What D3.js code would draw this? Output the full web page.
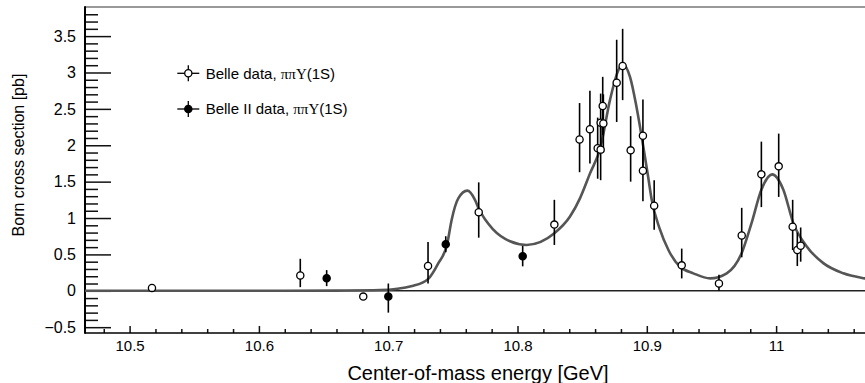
<!DOCTYPE html>
<html>
<head>
<meta charset="utf-8">
<script src="https://cdn.jsdelivr.net/npm/d3@7"></script>
<style>
  html, body { margin: 0; padding: 0; background: #fff; }
  svg { display: block; }
  text { font-family: "Liberation Sans", Arial, Helvetica, sans-serif; fill: #000; }
</style>
</head>
<body>
<svg id="chart" width="865" height="383"></svg>
<script>
// ---------- data ----------
// Belle data, open circles
const belleE   = [10.5173, 10.632, 10.6807, 10.7308, 10.770, 10.8285, 10.848, 10.856, 10.862, 10.8643, 10.8643, 10.8664, 10.8659, 10.8767, 10.8813, 10.8875, 10.897, 10.897, 10.9057, 10.927, 10.9558, 10.9734, 10.9886, 11.002, 11.0128, 11.0164, 11.019];
const belleXS  = [0.04, 0.21, -0.08, 0.34, 1.08, 0.91, 2.08, 2.22, 1.96, 1.94, 2.31, 2.30, 2.54, 2.86, 3.09, 1.93, 2.13, 1.65, 1.17, 0.35, 0.10, 0.76, 1.60, 1.71, 0.88, 0.56, 0.62];
const belleErrUp = [0.02, 0.23, 0.03, 0.33, 0.41, 0.34, 0.50, 0.53, 0.42, 0.42, 0.40, 0.40, 0.40, 0.59, 0.51, 0.47, 0.50, 0.45, 0.35, 0.23, 0.12, 0.38, 0.45, 0.45, 0.37, 0.24, 0.25];
const belleErrDn = [0.02, 0.16, 0.03, 0.24, 0.35, 0.28, 0.45, 0.47, 0.42, 0.42, 0.40, 0.40, 0.40, 0.54, 0.47, 0.43, 0.48, 0.42, 0.33, 0.18, 0.10, 0.30, 0.45, 0.42, 0.32, 0.22, 0.22];

// Belle II data, filled circles
const belle2E  = [10.6524, 10.7001, 10.7445, 10.804];
const belle2XS = [0.174, -0.08, 0.64, 0.476];
const belle2ErrUp = [0.11, 0.18, 0.11, 0.14];
const belle2ErrDn = [0.11, 0.22, 0.11, 0.14];

// fit curve
const curveE  = [10.4655, 10.55, 10.62, 10.66, 10.6937, 10.7194, 10.7308, 10.7388, 10.7457, 10.749, 10.7542, 10.7612, 10.7671, 10.770, 10.7813, 10.7942, 10.807, 10.8285, 10.8406, 10.8483, 10.856, 10.8643, 10.8715, 10.878, 10.8813, 10.887, 10.892, 10.8973, 10.901, 10.9038, 10.91, 10.917, 10.9257, 10.936, 10.949, 10.9618, 10.9734, 10.981, 10.9886, 10.997, 11.0056, 11.0133, 11.0237, 11.0365, 11.052, 11.0687, 11.09];
const curveXS = [0, 0, 0, 0.003, 0.01, 0.07, 0.16, 0.38, 0.65, 0.97, 1.27, 1.376, 1.25, 1.13, 0.84, 0.68, 0.63, 0.79, 1.02, 1.27, 1.61, 1.98, 2.62, 3.03, 3.11, 2.94, 2.53, 1.98, 1.57, 1.25, 0.85, 0.55, 0.33, 0.24, 0.17, 0.24, 0.52, 0.93, 1.39, 1.60, 1.39, 0.93, 0.61, 0.38, 0.24, 0.17, 0.12];

// ticks
const xMajorTicks = [10.5, 10.6, 10.7, 10.8, 10.9, 11.0];
const xTickLabels = ["10.5", "10.6", "10.7", "10.8", "10.9", "11"];
const yMajorTicks = [-0.5, 0, 0.5, 1, 1.5, 2, 2.5, 3, 3.5];
const yTickLabels = ["\u22120.5", "0", "0.5", "1", "1.5", "2", "2.5", "3", "3.5"];

const xTitle = "Center-of-mass energy [GeV]";
const yTitle = "Born cross section [pb]";
const legendLabels = ["Belle data, ", "Belle II data, "];

// ---------- layout ----------
const W = 865, H = 383;
const L = 85, T = 7, B = 333, R = 865;
const pxPerGeV = 1293;
const xMin = 10.4655;
const xMaxRange = 990;

const x = d3.scaleLinear().domain([xMin, xMin + (xMaxRange - L) / pxPerGeV]).range([L, xMaxRange]);
const y = d3.scaleLinear().domain([-0.58, 3.9]).range([B, T]);

const svg = d3.select("#chart");
svg.append("rect").attr("width", W).attr("height", H).attr("fill", "#fff");

svg.append("defs").append("clipPath").attr("id", "plotclip")
  .append("rect").attr("x", L).attr("y", T).attr("width", R - L).attr("height", B - T);

// minor ticks
const yMinor = d3.range(-5, 39).map(i => i / 10).filter(v => Math.abs(v * 2 - Math.round(v * 2)) > 1e-6);
const xMinor = d3.range(0, 40).map(i => +(10.48 + i * 0.02).toFixed(2)).filter(v => v > xMin && x(v) < R && Math.abs(v * 10 - Math.round(v * 10)) > 1e-6);

const gYMinor = svg.append("g").attr("transform", `translate(${L},0)`)
  .call(d3.axisLeft(y).tickValues(yMinor).tickSizeInner(-13).tickSizeOuter(0).tickFormat(""));
const gY = svg.append("g").attr("transform", `translate(${L},0)`)
  .call(d3.axisLeft(y).tickValues(yMajorTicks).tickSizeInner(-26).tickSizeOuter(0).tickPadding(9)
    .tickFormat((d, i) => yTickLabels[i]));
const gXMinor = svg.append("g").attr("transform", `translate(0,${B})`)
  .call(d3.axisBottom(x).tickValues(xMinor).tickSizeInner(-4).tickSizeOuter(0).tickFormat(""));
const gX = svg.append("g").attr("transform", `translate(0,${B})`)
  .call(d3.axisBottom(x).tickValues(xMajorTicks).tickSizeInner(-7).tickSizeOuter(0).tickPadding(7)
    .tickFormat((d, i) => xTickLabels[i]));

[gYMinor, gY, gXMinor, gX].forEach(g => {
  g.select(".domain").remove();
  g.selectAll(".tick line").attr("stroke", "#111").attr("stroke-width", 1.5);
});
gY.selectAll(".tick text").attr("font-size", 16).attr("fill", "#000")
  .attr("font-family", "'Liberation Sans', Arial, sans-serif");
gX.selectAll(".tick text").attr("font-size", 15).attr("fill", "#000")
  .attr("font-family", "'Liberation Sans', Arial, sans-serif");

// frame
svg.append("line").attr("x1", L).attr("x2", R).attr("y1", T).attr("y2", T)
  .attr("stroke", "#777").attr("stroke-width", 1.5);
svg.append("line").attr("x1", L).attr("x2", L).attr("y1", T - 0.75).attr("y2", B + 0.75)
  .attr("stroke", "#000").attr("stroke-width", 2);
svg.append("line").attr("x1", L).attr("x2", R).attr("y1", B).attr("y2", B)
  .attr("stroke", "#000").attr("stroke-width", 1.5);

const plot = svg.append("g").attr("clip-path", "url(#plotclip)");

// zero line
plot.append("line").attr("x1", L).attr("x2", R).attr("y1", y(0)).attr("y2", y(0))
  .attr("stroke", "#222").attr("stroke-width", 1.5);

// curve
const curveData = curveE.map((e, i) => [e, curveXS[i]]);
plot.append("path")
  .attr("d", d3.line().x(d => x(d[0])).y(d => y(d[1])).curve(d3.curveMonotoneX)(curveData))
  .attr("fill", "none").attr("stroke", "#555").attr("stroke-width", 2.6);

// error bars + markers
function drawSeries(E, XS, up, dn, filled) {
  const g = plot.append("g");
  E.forEach((e, i) => {
    g.append("line").attr("x1", x(e)).attr("x2", x(e))
      .attr("y1", y(XS[i] + up[i])).attr("y2", y(XS[i] - dn[i]))
      .attr("stroke", "#000").attr("stroke-width", 1.6);
  });
  E.forEach((e, i) => {
    g.append("circle").attr("cx", x(e)).attr("cy", y(XS[i])).attr("r", 3.6)
      .attr("fill", filled ? "#000" : "#fff").attr("stroke", "#000").attr("stroke-width", 1.3);
  });
}
drawSeries(belleE, belleXS, belleErrUp, belleErrDn, false);
drawSeries(belle2E, belle2XS, belle2ErrUp, belle2ErrDn, true);

// legend
const legRows = [{ y: 73.3, filled: false }, { y: 109, filled: true }];
legRows.forEach((r, i) => {
  const cx = 188.3;
  svg.append("line").attr("x1", 177.3).attr("x2", 199.3).attr("y1", r.y).attr("y2", r.y)
    .attr("stroke", "#000").attr("stroke-width", 1.3);
  svg.append("line").attr("x1", cx).attr("x2", cx).attr("y1", r.y - 8).attr("y2", r.y + 8)
    .attr("stroke", "#000").attr("stroke-width", 1.3);
  svg.append("circle").attr("cx", cx).attr("cy", r.y).attr("r", 3.6)
    .attr("fill", r.filled ? "#000" : "#fff").attr("stroke", "#000").attr("stroke-width", 1.3);
  const t = svg.append("text").attr("x", 205.7).attr("y", r.y + 5.3).attr("font-size", 15);
  t.append("tspan").text(legendLabels[i]);
  t.append("tspan").attr("font-family", "'Liberation Serif', 'Times New Roman', serif").text("\u03c0\u03c0\u03a5");
  t.append("tspan").text("(1S)");
});

// axis titles
svg.append("text").attr("x", 478).attr("y", 380).attr("text-anchor", "middle")
  .attr("font-size", 20).text(xTitle);
svg.append("text").attr("transform", "translate(24,155) rotate(-90)").attr("text-anchor", "middle")
  .attr("font-size", 16).text(yTitle);
</script>
</body>
</html>
